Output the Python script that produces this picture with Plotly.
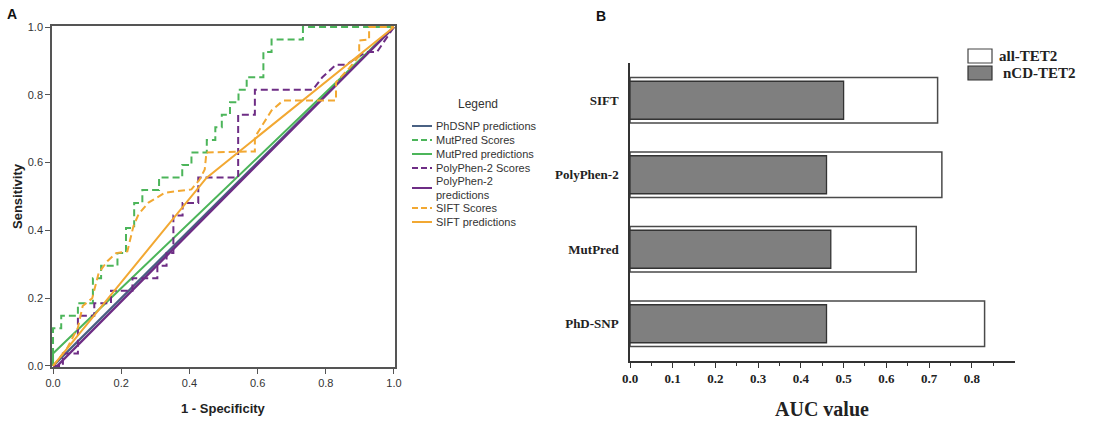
import plotly.graph_objects as go

W, H = 1105, 421

# ---------------- Panel A data (ROC curves) ----------------
phdsnp_pred_fpr = [0, 1.0]
phdsnp_pred_tpr = [0, 1.0]

mutpred_scores_fpr = [0, 0, 0, 0.024, 0.024, 0.073, 0.073, 0.117, 0.117, 0.141, 0.141, 0.189, 0.189,
                      0.214, 0.214, 0.238, 0.238, 0.262, 0.262, 0.311, 0.311, 0.379, 0.379, 0.406, 0.406,
                      0.451, 0.451, 0.476, 0.476, 0.495, 0.495, 0.519, 0.519, 0.544, 0.544, 0.568, 0.568,
                      0.617, 0.617, 0.641, 0.641, 0.733, 0.733, 1.0]
mutpred_scores_tpr = [0, 0.111, 0.111, 0.111, 0.148, 0.148, 0.185, 0.185, 0.259, 0.259, 0.296, 0.296, 0.333,
                      0.333, 0.407, 0.407, 0.481, 0.481, 0.519, 0.519, 0.556, 0.556, 0.593, 0.593, 0.630,
                      0.630, 0.667, 0.667, 0.704, 0.704, 0.741, 0.741, 0.778, 0.778, 0.815, 0.815, 0.852,
                      0.852, 0.926, 0.926, 0.963, 0.963, 1.0, 1.0]

mutpred_pred_fpr = [0, 0, 1.0]
mutpred_pred_tpr = [0, 0.037, 1.0]

polyphen_scores_fpr = [0, 0.029, 0.029, 0.073, 0.073, 0.121, 0.121, 0.17, 0.17, 0.233, 0.233, 0.306, 0.306,
                       0.333, 0.333, 0.353, 0.353, 0.38, 0.38, 0.426, 0.426, 0.543, 0.543, 0.592, 0.592,
                       0.762, 0.79, 0.83, 0.86, 0.917, 0.95, 0.975, 1.0]
polyphen_scores_tpr = [0, 0, 0.037, 0.037, 0.148, 0.148, 0.185, 0.185, 0.222, 0.222, 0.259, 0.259, 0.296,
                       0.296, 0.333, 0.333, 0.444, 0.444, 0.481, 0.481, 0.556, 0.556, 0.741, 0.741, 0.815,
                       0.815, 0.852, 0.889, 0.889, 0.926, 0.926, 0.963, 1.0]

polyphen_pred_fpr = [0, 0.012, 1.0]
polyphen_pred_tpr = [0, 0, 1.0]

sift_scores_fpr = [0, 0.04, 0.073, 0.087, 0.115, 0.134, 0.16, 0.185, 0.218, 0.236, 0.251, 0.28, 0.328,
                   0.406, 0.43, 0.445, 0.45, 0.592, 0.592, 0.617, 0.641, 0.675, 0.83, 0.83, 0.87, 0.898,
                   0.898, 0.927, 0.927, 1.0]
sift_scores_tpr = [0, 0.05, 0.113, 0.177, 0.2, 0.275, 0.31, 0.333, 0.338, 0.413, 0.448, 0.482, 0.511,
                   0.521, 0.55, 0.58, 0.63, 0.633, 0.675, 0.715, 0.754, 0.783, 0.783, 0.837, 0.88, 0.915,
                   0.96, 0.963, 1.0, 1.0]

sift_pred_fpr = [0, 0.45, 1.0]
sift_pred_tpr = [0, 0.555, 1.0]

roc_names = ["PhDSNP predictions", "MutPred Scores", "MutPred predictions", "PolyPhen-2 Scores",
             "PolyPhen-2<br>predictions", "SIFT Scores", "SIFT predictions"]
roc_ticks = [0.0, 0.2, 0.4, 0.6, 0.8, 1.0]

# ---------------- Panel B data (AUC bars) ----------------
tools = ["PhD-SNP", "MutPred", "PolyPhen-2", "SIFT"]
auc_all_tet2 = [0.83, 0.67, 0.73, 0.72]
auc_ncd_tet2 = [0.46, 0.47, 0.46, 0.50]
auc_ticks = [0.0, 0.1, 0.2, 0.3, 0.4, 0.5, 0.6, 0.7, 0.8]
auc_minor = [0.05, 0.15, 0.25, 0.35, 0.45, 0.55, 0.65, 0.75, 0.85]

# ---------------- styles ----------------
C_BLUE = "#4a6183"
C_GREEN = "#4cb55a"
C_PURPLE = "#6e2d85"
C_ORANGE = "#f2a832"
DASH = "7px,4px"

roc_series = [
    (phdsnp_pred_fpr, phdsnp_pred_tpr, C_BLUE, "solid", 2.4),
    (mutpred_scores_fpr, mutpred_scores_tpr, C_GREEN, DASH, 2.0),
    (mutpred_pred_fpr, mutpred_pred_tpr, C_GREEN, "solid", 2.0),
    (polyphen_scores_fpr, polyphen_scores_tpr, C_PURPLE, DASH, 2.0),
    (polyphen_pred_fpr, polyphen_pred_tpr, C_PURPLE, "solid", 2.4),
    (sift_scores_fpr, sift_scores_tpr, C_ORANGE, DASH, 2.0),
    (sift_pred_fpr, sift_pred_tpr, C_ORANGE, "solid", 2.0),
]

fig = go.Figure()

for (fx, fy, col, dash, lw), name in zip(roc_series, roc_names):
    fig.add_trace(go.Scatter(x=fx, y=fy, mode="lines", name=name.replace("<br>", " "),
                             line=dict(color=col, dash=dash, width=lw),
                             showlegend=False, xaxis="x", yaxis="y"))

fig.add_trace(go.Bar(y=tools, x=auc_all_tet2, orientation="h", name="all-TET2", width=0.61,
                     marker=dict(color="white", line=dict(color="#4a4a4a", width=1.5)),
                     showlegend=False, xaxis="x2", yaxis="y2"))
fig.add_trace(go.Bar(y=tools, x=auc_ncd_tet2, orientation="h", name="nCD-TET2", width=0.51,
                     marker=dict(color="#7f7f7f", line=dict(color="#333333", width=1.3)),
                     showlegend=False, xaxis="x2", yaxis="y2"))

sans = "Liberation Sans, Arial, sans-serif"
serif = "Liberation Serif, Times New Roman, serif"


def px(x):
    return x / W


def py(y):
    return 1 - y / H


axis_a = dict(range=[-0.003, 1.003], showline=True, linecolor="#555555", linewidth=1.5, mirror=True,
              ticks="outside", ticklen=5, tickcolor="#555555", tickwidth=1,
              tickvals=roc_ticks, ticktext=[f"{v:.1f}" for v in roc_ticks],
              tickfont=dict(family=sans, size=11, color="#333333"),
              showgrid=False, zeroline=False, automargin=False)

fig.update_layout(
    width=W, height=H, margin=dict(l=0, r=0, t=0, b=0, autoexpand=False),
    paper_bgcolor="white", plot_bgcolor="white",
    barmode="overlay", showlegend=False,
    xaxis=dict(axis_a, domain=[px(52), px(395)], anchor="y"),
    yaxis=dict(axis_a, domain=[py(367), py(26)], anchor="x"),
    xaxis2=dict(domain=[px(630), px(1014.5)], anchor="y2", range=[0, 0.9],
                showline=True, linecolor="#333333", linewidth=1.5,
                ticks="outside", ticklen=5, tickcolor="#333333", tickwidth=1.2,
                tickvals=auc_ticks, ticktext=[f"{v:.1f}" for v in auc_ticks],
                tickfont=dict(family=serif, size=13, color="#222222", weight="bold"),
                minor=dict(tickvals=auc_minor, ticks="outside", ticklen=3, tickcolor="#333333"),
                showgrid=False, zeroline=False, automargin=False),
    yaxis2=dict(domain=[py(361), py(63)], anchor="x2", type="category",
                categoryorder="array", categoryarray=tools, range=[-0.5, 3.5],
                showline=True, linecolor="#333333", linewidth=1.5, ticks="",
                ticklabelstandoff=7,
                tickfont=dict(family=serif, size=13, color="#222222", weight="bold"),
                showgrid=False, zeroline=False, automargin=False),
)

annotations = [
    dict(text="<b>A</b>", x=px(12), y=py(14), font=dict(family=sans, size=14, color="#111")),
    dict(text="<b>B</b>", x=px(601), y=py(16), font=dict(family=sans, size=14, color="#111")),
    dict(text="<b>Sensitivity</b>", x=px(17), y=py(196), textangle=-90,
         font=dict(family=sans, size=13, color="#222")),
    dict(text="<b>1 - Specificity</b>", x=px(223), y=py(408),
         font=dict(family=sans, size=13, color="#222")),
    dict(text="<b>AUC value</b>", x=px(822), y=py(409),
         font=dict(family=serif, size=20, color="#222")),
    dict(text="Legend", x=px(478), y=py(104), font=dict(family=sans, size=12, color="#333")),
]

# Panel A legend (manual)
legend_y = [126, 140, 154, 168, 188, 208, 222]
shapes = []
for (fx, fy, col, dash, lw), name, yy in zip(roc_series, roc_names, legend_y):
    shapes.append(dict(type="line", xref="paper", yref="paper", x0=px(412), x1=px(432),
                       y0=py(yy), y1=py(yy), line=dict(color=col, dash=dash if dash == "solid" else "6px,3px",
                                                      width=2)))
    annotations.append(dict(text=name, x=px(434), y=py(yy), xanchor="left", yanchor="middle",
                            align="left", font=dict(family=sans, size=11, color="#333")))

# Panel B legend (manual)
shapes.append(dict(type="rect", xref="paper", yref="paper", x0=px(968), x1=px(992), y0=py(63), y1=py(49),
                   fillcolor="white", line=dict(color="#444", width=1.2)))
shapes.append(dict(type="rect", xref="paper", yref="paper", x0=px(968), x1=px(992), y0=py(80), y1=py(66),
                   fillcolor="#7f7f7f", line=dict(color="#333", width=1.2)))
annotations.append(dict(text="<b>all-TET2</b>", x=px(997), y=py(56), xanchor="left", yanchor="middle",
                        font=dict(family=serif, size=15, color="#222")))
annotations.append(dict(text="<b>nCD-TET2</b>", x=px(1001), y=py(73), xanchor="left", yanchor="middle",
                        font=dict(family=serif, size=15, color="#222")))

for a in annotations:
    a.setdefault("xref", "paper")
    a.setdefault("yref", "paper")
    a.setdefault("showarrow", False)
    a.setdefault("xanchor", "center")
    a.setdefault("yanchor", "middle")

fig.update_layout(annotations=annotations, shapes=shapes)

fig.write_html("out.html", config={"displayModeBar": False},
               post_script="document.body.style.margin='0px';")
